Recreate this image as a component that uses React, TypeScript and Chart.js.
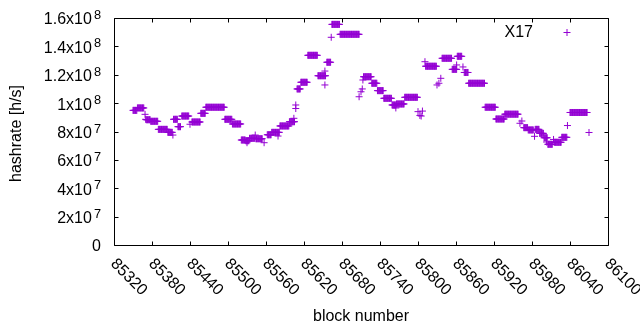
import { useEffect, useRef } from "react";
import { Chart, registerables } from "chart.js";

Chart.register(...registerables);

const seriesLabel = "X17";
const xTitle = "block number";
const yTitle = "hashrate [h/s]";

// runs of consecutive blocks sharing (roughly) the same hashrate
const runStart = [
  85350, 85357, 85369, 85370, 85371, 85378, 85390, 85405, 85413, 85414,
  85421, 85427, 85440, 85443, 85457, 85465, 85495, 85507, 85521, 85528,
  85530, 85534, 85543, 85544, 85557, 85562, 85569, 85579, 85582, 85597,
  85604, 85607, 85607, 85609, 85615, 85626, 85642, 85653, 85653, 85656,
  85663, 85664, 85677, 85707, 85710, 85712, 85713, 85714, 85727, 85736,
  85746, 85759, 85765, 85766, 85779, 85800, 85803, 85805, 85807, 85811,
  85812, 85830, 85833, 85836, 85838, 85854, 85861, 85862, 85871, 85873,
  85880, 85906, 85923, 85937, 85961, 85964, 85967, 85974, 85984, 85985,
  85992, 85999, 86003, 86005, 86014, 86015, 86027, 86036, 86040, 86070,
];
const runEnd = [
  85356, 85367, 85369, 85370, 85377, 85389, 85404, 85412, 85413, 85420,
  85425, 85438, 85440, 85456, 85464, 85494, 85506, 85520, 85527, 85533,
  85530, 85542, 85543, 85554, 85557, 85568, 85581, 85579, 85596, 85605,
  85604, 85607, 85607, 85614, 85625, 85641, 85654, 85653, 85653, 85662,
  85663, 85676, 85707, 85707, 85710, 85712, 85713, 85726, 85735, 85745,
  85758, 85765, 85765, 85778, 85799, 85800, 85803, 85805, 85807, 85811,
  85829, 85830, 85833, 85836, 85853, 85861, 85861, 85869, 85871, 85879,
  85905, 85922, 85936, 85958, 85961, 85964, 85973, 85982, 85984, 85991,
  85998, 86004, 86003, 86012, 86014, 86026, 86035, 86036, 86067, 86070,
];
const runValue = [
  94.9e6, 96.6e6, 92.1e6, 88.6e6, 88.3e6, 87.2e6, 81.5e6, 79.4e6, 77.5e6, 88.6e6,
  83.4e6, 90.9e6, 85.1e6, 86.7e6, 92.8e6, 97.1e6, 88.6e6, 85.3e6, 74.0e6, 73.5e6,
  72.1e6, 75.2e6, 77.5e6, 74.9e6, 72.1e6, 77.7e6, 79.4e6, 76.8e6, 83.9e6, 86.9e6,
  89.3e6, 98.7e6, 96.2e6, 110.0e6, 114.7e6, 133.7e6, 119.3e6, 122.6e6, 112.8e6, 128.8e6,
  146.4e6, 155.5e6, 148.5e6, 104.5e6, 108.0e6, 110.0e6, 116.3e6, 118.6e6, 114.0e6, 108.8e6,
  103.4e6, 98.7e6, 96.6e6, 99.4e6, 104.1e6, 94.0e6, 91.3e6, 90.9e6, 94.4e6, 129.2e6,
  126.0e6, 112.8e6, 114.0e6, 117.5e6, 131.6e6, 123.8e6, 126.9e6, 133.0e6, 125.5e6, 121.6e6,
  114.0e6, 97.1e6, 88.8e6, 92.2e6, 85.8e6, 87.4e6, 82.7e6, 81.1e6, 76.6e6, 81.5e6,
  78.7e6, 75.6e6, 72.6e6, 71.0e6, 74.4e6, 72.4e6, 75.9e6, 84.2e6, 93.4e6, 79.3e6,
];

const xTicks = [85320, 85380, 85440, 85500, 85560, 85620, 85680, 85740, 85800, 85860, 85920, 85980, 86040, 86100];
const yTicks = [0, 2e7, 4e7, 6e7, 8e7, 1e8, 1.2e8, 1.4e8, 1.6e8];
const yTickBase = ["0", "2x10", "4x10", "6x10", "8x10", "1x10", "1.2x10", "1.4x10", "1.6x10"];
const yTickExp = ["", "7", "7", "7", "7", "8", "8", "8", "8"];

const COLOR = "#9400d3";
const FONT_FAMILY = '"Liberation Sans", Arial, sans-serif';
const FONT = `16px ${FONT_FAMILY}`;
const SUP_FONT = `12.8px ${FONT_FAMILY}`;

function buildPoints() {
  const pts: { x: number; y: number }[] = [];
  for (let i = 0; i < runStart.length; i++) {
    for (let b = runStart[i]; b <= runEnd[i]; b++) pts.push({ x: b, y: runValue[i] });
  }
  return pts;
}

const gnuplotAxes = {
  id: "gnuplotAxes",
  afterDraw(chart: any) {
    const { ctx, chartArea: a, scales } = chart;
    const xs = scales.x;
    const ys = scales.y;
    const L = Math.round(a.left) + 0.5;
    const R = Math.round(a.right) + 0.5;
    const T = Math.round(a.top) + 0.5;
    const B = Math.round(a.bottom) + 0.5;
    const tick = 4;
    ctx.save();
    ctx.strokeStyle = "#000";
    ctx.lineWidth = 1;
    ctx.beginPath();
    ctx.rect(L, T, R - L, B - T);
    for (const v of xTicks) {
      const px = Math.round(xs.getPixelForValue(v)) + 0.5;
      ctx.moveTo(px, B);
      ctx.lineTo(px, B - tick);
      ctx.moveTo(px, T);
      ctx.lineTo(px, T + tick);
    }
    for (const v of yTicks) {
      const py = Math.round(ys.getPixelForValue(v)) + 0.5;
      ctx.moveTo(L, py);
      ctx.lineTo(L + tick, py);
      ctx.moveTo(R, py);
      ctx.lineTo(R - tick, py);
    }
    ctx.stroke();

    ctx.fillStyle = "#000";
    // x tick labels, rotated clockwise
    ctx.font = FONT;
    ctx.textAlign = "left";
    ctx.textBaseline = "middle";
    for (const v of xTicks) {
      const px = xs.getPixelForValue(v);
      ctx.save();
      ctx.translate(px - 1, B + 16);
      ctx.rotate(Math.PI / 4);
      ctx.fillText(String(v), 0, 0);
      ctx.restore();
    }
    // y tick labels with superscript exponents
    const rightEdge = 101;
    yTicks.forEach((v, i) => {
      const py = ys.getPixelForValue(v);
      const exp = yTickExp[i];
      ctx.textAlign = "right";
      if (exp) {
        ctx.font = SUP_FONT;
        const ws = ctx.measureText(exp).width;
        ctx.fillText(exp, rightEdge, py - 2.5);
        ctx.font = FONT;
        ctx.fillText(yTickBase[i], rightEdge - ws - 2, py + 2);
      } else {
        ctx.font = FONT;
        ctx.fillText(yTickBase[i], rightEdge, py + 1.5);
      }
    });

    // axis titles
    ctx.font = FONT;
    ctx.textAlign = "center";
    ctx.fillText(xTitle, (a.left + a.right) / 2, 317);
    ctx.save();
    ctx.translate(17, (a.top + a.bottom) / 2 + 2);
    ctx.rotate(-Math.PI / 2);
    ctx.fillText(yTitle, 0, 0);
    ctx.restore();

    // legend
    ctx.textAlign = "right";
    ctx.fillText(chart.data.datasets[0].label, 533, 33);
    ctx.strokeStyle = COLOR;
    ctx.beginPath();
    ctx.moveTo(563.5, 32.5);
    ctx.lineTo(570.5, 32.5);
    ctx.moveTo(567, 29);
    ctx.lineTo(567, 36);
    ctx.stroke();
    ctx.restore();
  },
};

export default function App() {
  const ref = useRef<HTMLCanvasElement | null>(null);
  useEffect(() => {
    document.body.style.margin = "0";
    const canvas = ref.current;
    if (!canvas) return;
    const chart = new Chart(canvas, {
      type: "scatter",
      data: {
        datasets: [
          {
            label: seriesLabel,
            data: buildPoints(),
            pointStyle: "cross",
            pointRadius: 3.5,
            pointBorderWidth: 1,
            borderColor: COLOR,
            backgroundColor: COLOR,
            pointHoverRadius: 3.5,
          },
        ],
      },
      options: {
        animation: false,
        responsive: false,
        devicePixelRatio: 1,
        events: [],
        layout: { padding: { left: 114, right: 32, top: 18, bottom: 85 } },
        plugins: { legend: { display: false }, tooltip: { enabled: false } },
        scales: {
          x: { type: "linear", display: false, min: 85320, max: 86100, ticks: { stepSize: 60 } },
          y: { type: "linear", display: false, min: 0, max: 1.6e8, ticks: { stepSize: 2e7 } },
        },
      },
      plugins: [gnuplotAxes],
    });
    return () => chart.destroy();
  }, []);
  return (
    <div style={{ width: 640, height: 330, background: "#fff" }}>
      <canvas ref={ref} width={640} height={330} style={{ display: "block" }} />
    </div>
  );
}
